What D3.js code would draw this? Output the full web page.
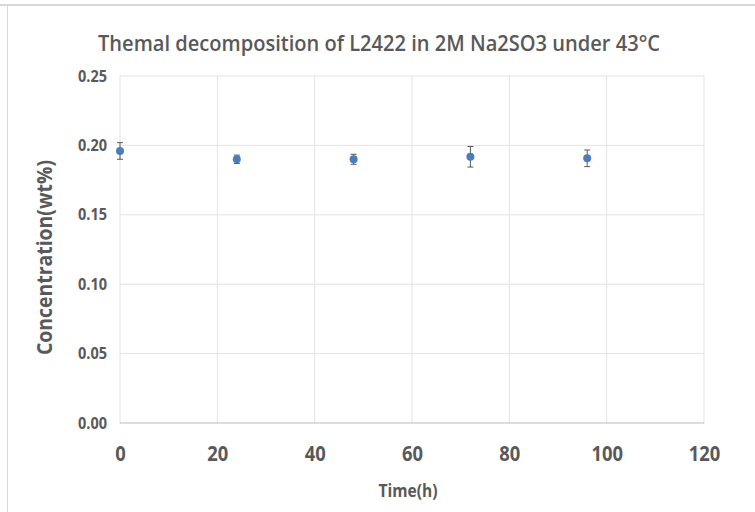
<!DOCTYPE html>
<html>
<head>
<meta charset="utf-8">
<script src="https://cdn.jsdelivr.net/npm/d3@7"></script>
<style>
  body { margin: 0; background: #fff; }
  text { font-family: "Open Sans", sans-serif; fill: #595959; font-weight: 700; }
</style>
</head>
<body>
<svg id="chart"></svg>
<script>
var hours = [0, 24, 48, 72, 96];
var conc = [0.196, 0.190, 0.190, 0.1918, 0.1907];
var errs = [0.006, 0.003, 0.0036, 0.0074, 0.006];
var xTicks = [0, 20, 40, 60, 80, 100, 120];
var yTicks = [0, 0.05, 0.10, 0.15, 0.20, 0.25];

var W = 755, H = 512,
	margin = {top: 76, right: 51, bottom: 89, left: 120},
	width = W - margin.left - margin.right,
	height = H - margin.top - margin.bottom;

var svg = d3.select("#chart").attr("width", W).attr("height", H);

// frame edges visible in the screenshot
svg.append("rect").attr("x", 0).attr("y", 4).attr("width", W).attr("height", 2).style("fill", "#d9d9d9");
svg.append("rect").attr("x", 7).attr("y", 6).attr("width", 1).attr("height", H).style("fill", "#d9d9d9");

var x = d3.scaleLinear().domain([0, 120]).range([0, width]);
var y = d3.scaleLinear().domain([0, 0.25]).range([height, 0]);

var g = svg.append("g").attr("transform", "translate(" + margin.left + "," + margin.top + ")");

// grid
g.append("g").selectAll("line").data(xTicks).enter().append("line")
	.attr("x1", function(d) { return x(d); }).attr("x2", function(d) { return x(d); })
	.attr("y1", 0).attr("y2", height)
	.style("stroke", "#e3e3e3").style("stroke-width", 1);
g.append("g").selectAll("line").data(yTicks).enter().append("line")
	.attr("x1", 0).attr("x2", width)
	.attr("y1", function(d) { return y(d); }).attr("y2", function(d) { return y(d); })
	.style("stroke", function(d) { return d === 0 ? "#d0d0d0" : "#e3e3e3"; })
	.style("stroke-width", function(d) { return d === 0 ? 1.5 : 1; });

// axes (labels only), narrowed to look like the condensed original font
var xAxis = g.append("g").attr("transform", "translate(0," + height + ")")
	.call(d3.axisBottom(x).tickValues(xTicks).tickSize(0).tickPadding(22).tickFormat(d3.format("d")));
xAxis.select(".domain").remove();
xAxis.selectAll(".tick text").style("font-size", "22px").style("fill", "#595959").style("font-family", "Open Sans")
	.attr("textLength", function(d) { return String(d).length * 10.5; })
	.attr("lengthAdjust", "spacingAndGlyphs");

var yAxis = g.append("g")
	.call(d3.axisLeft(y).tickValues(yTicks).tickSize(0).tickPadding(13).tickFormat(d3.format(".2f")));
yAxis.select(".domain").remove();
yAxis.selectAll(".tick text").style("font-size", "16px").style("fill", "#595959").style("font-family", "Open Sans")
	.attr("textLength", 29).attr("lengthAdjust", "spacingAndGlyphs");

// error bars
var eb = g.append("g").selectAll("g").data(hours).enter().append("g");
eb.append("line")
	.attr("x1", function(d) { return x(d); }).attr("x2", function(d) { return x(d); })
	.attr("y1", function(d, i) { return y(conc[i] + errs[i]); })
	.attr("y2", function(d, i) { return y(conc[i] - errs[i]); })
	.style("stroke", "#595959").style("stroke-width", 1);
[1, -1].forEach(function(s) {
	eb.append("line")
		.attr("x1", function(d) { return x(d) - 3; }).attr("x2", function(d) { return x(d) + 3; })
		.attr("y1", function(d, i) { return y(conc[i] + s * errs[i]); })
		.attr("y2", function(d, i) { return y(conc[i] + s * errs[i]); })
		.style("stroke", "#595959").style("stroke-width", 1);
});

// points
g.append("g").selectAll("circle").data(hours).enter().append("circle")
	.attr("cx", function(d) { return x(d); })
	.attr("cy", function(d, i) { return y(conc[i]); })
	.attr("r", 4)
	.style("fill", "#4a7ebb");

// titles
svg.append("text").attr("x", 379).attr("y", 51).attr("text-anchor", "middle")
	.style("font-size", "22px").style("font-weight", 600)
	.attr("textLength", 562).attr("lengthAdjust", "spacingAndGlyphs")
	.text("Themal decomposition of L2422 in 2M Na2SO3 under 43°C");
svg.append("text").attr("x", 408).attr("y", 497).attr("text-anchor", "middle")
	.style("font-size", "18px")
	.attr("textLength", 59).attr("lengthAdjust", "spacingAndGlyphs")
	.text("Time(h)");
svg.append("text").attr("transform", "translate(52," + (margin.top + height / 2 + 8) + ") rotate(-90)")
	.attr("text-anchor", "middle")
	.style("font-size", "21px")
	.attr("textLength", 195).attr("lengthAdjust", "spacingAndGlyphs")
	.text("Concentration(wt%)");
</script>
</body>
</html>
